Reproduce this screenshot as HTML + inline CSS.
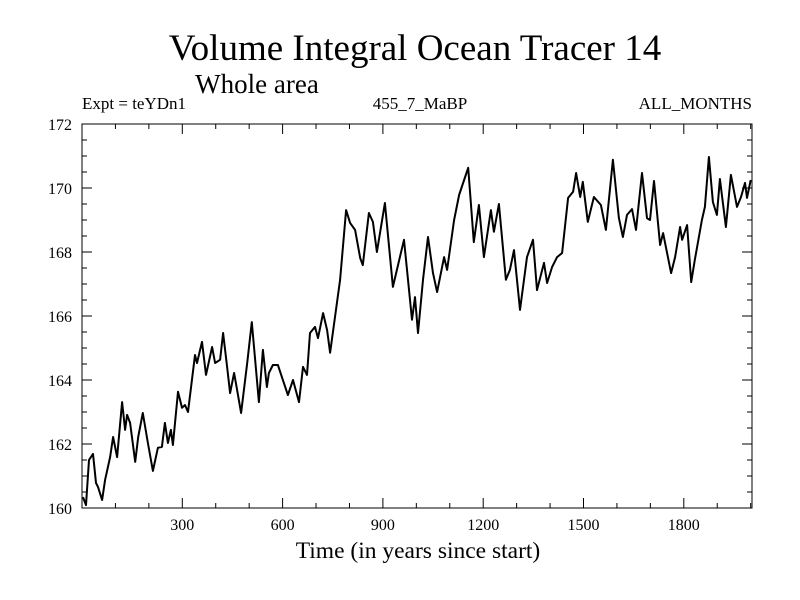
<!DOCTYPE html>
<html><head><meta charset="utf-8"><style>
body{margin:0;background:#fff;}
svg{display:block;font-family:"Liberation Serif",serif;}
</style></head><body>
<svg id="chart" width="800" height="600">
<text x="415" y="60" font-size="37" text-anchor="middle">Volume Integral Ocean Tracer 14</text>
<text x="257" y="93" font-size="27" text-anchor="middle">Whole area</text>
<text x="82" y="109" font-size="17">Expt = teYDn1</text>
<text x="420" y="109" font-size="17" text-anchor="middle">455_7_MaBP</text>
<text x="752" y="109" font-size="17" text-anchor="end">ALL_MONTHS</text>
<text x="418" y="558" font-size="23.5" text-anchor="middle">Time (in years since start)</text>
<g id="axes"></g>
<path id="line" fill="none" stroke="#000" stroke-width="2" stroke-linejoin="round"></path>
<rect x="82" y="124" width="670" height="384" fill="none" stroke="#000" stroke-width="1"></rect>
</svg>
<script>
const years=[3,12,21,33,42,48,60,69,84,93,105,120,129,135,144,159,168,182,197,212,227,239,248,257,266,272,287,299,308,317,338,344,359,371,389,398,413,422,434,443,455,464,476,494,508,529,541,553,559,571,586,598,616,631,649,661,673,682,697,706,721,733,742,772,790,802,817,832,840,858,870,882,906,930,951,963,987,996,1005,1020,1035,1050,1062,1083,1092,1113,1128,1143,1155,1172,1187,1202,1223,1232,1247,1268,1280,1292,1310,1331,1349,1361,1382,1391,1406,1421,1436,1454,1469,1478,1490,1498,1513,1531,1552,1567,1588,1606,1618,1630,1645,1657,1675,1690,1699,1711,1729,1738,1762,1774,1789,1795,1810,1822,1833,1854,1863,1875,1887,1899,1908,1926,1941,1959,1971,1983,1989,2000];
const values=[160.34,160.09,161.5,161.69,160.78,160.66,160.25,160.88,161.59,162.22,161.59,163.31,162.44,162.91,162.66,161.44,162.22,162.97,162.03,161.16,161.88,161.91,162.66,162.03,162.44,161.97,163.63,163.13,163.22,163.0,164.78,164.53,165.19,164.16,165.03,164.53,164.63,165.47,164.41,163.59,164.22,163.69,162.97,164.53,165.81,163.31,164.94,163.78,164.22,164.47,164.47,164.09,163.53,164.0,163.31,164.41,164.16,165.47,165.66,165.31,166.09,165.56,164.85,167.13,169.31,168.91,168.69,167.81,167.59,169.22,168.94,168.0,169.53,166.91,167.84,168.38,165.88,166.59,165.47,167.13,168.47,167.34,166.75,167.84,167.44,169.0,169.78,170.25,170.63,168.31,169.47,167.84,169.31,168.63,169.5,167.13,167.44,168.06,166.19,167.84,168.38,166.81,167.66,167.03,167.53,167.84,167.97,169.69,169.88,170.47,169.72,170.19,168.94,169.72,169.47,168.69,170.88,169.06,168.47,169.16,169.34,168.69,170.47,169.06,169.0,170.22,168.22,168.59,167.34,167.84,168.78,168.38,168.84,167.06,167.75,169.0,169.41,170.97,169.56,169.16,170.28,168.78,170.41,169.41,169.72,170.16,169.69,170.25];
const xTicks=[300,600,900,1200,1500,1800];
const yTicks=[160,162,164,166,168,170,172];
const X0=82,X1=752,Y0=508,Y1=124,XMIN=0,XMAX=2004,YMIN=160,YMAX=172;
const sx=v=>X0+(v-XMIN)/(XMAX-XMIN)*(X1-X0);
const sy=v=>Y0-(v-YMIN)/(YMAX-YMIN)*(Y0-Y1);
const NS="http://www.w3.org/2000/svg";
const axes=document.getElementById('axes');
function ln(x1,y1,x2,y2){const l=document.createElementNS(NS,'line');l.setAttribute('x1',x1);l.setAttribute('y1',y1);l.setAttribute('x2',x2);l.setAttribute('y2',y2);l.setAttribute('stroke','#000');l.setAttribute('stroke-width','1');axes.appendChild(l);return l;}
for(let t=100;t<XMAX;t+=100){const x=sx(t);const L=(t%300===0)?10:5;
const a=ln(x,Y0,x,Y0-L);


const b=ln(x,Y1,x,Y1+L);

}
for(let v=YMIN;v<=YMAX;v+=0.5){const y=sy(v);const L=(v%2===0)?10:5;
const a=ln(X0,y,X0+L,y);


const b=ln(X1,y,X1-L,y);

}
xTicks.forEach(t=>{const e=document.createElementNS(NS,'text');e.setAttribute('x',sx(t));e.setAttribute('y',530);e.setAttribute('font-size','16');e.setAttribute('text-anchor','middle');e.textContent=t;


axes.appendChild(e);});
yTicks.forEach(v=>{const e=document.createElementNS(NS,'text');e.setAttribute('x',72);e.setAttribute('y',sy(v)+6);e.setAttribute('font-size','16');e.setAttribute('text-anchor','end');e.textContent=v;


axes.appendChild(e);});
document.getElementById('line').setAttribute('d',years.map((t,i)=>(i?'L':'M')+sx(t).toFixed(1)+','+sy(values[i]).toFixed(1)).join(''));
</script>
</body></html>
